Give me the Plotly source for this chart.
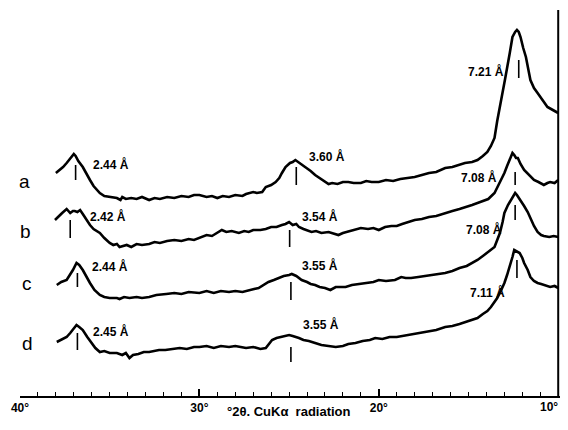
import plotly.graph_objects as go

# ---- data (2-theta in degrees, relative intensity with stacking offset) ----
a_2theta = [38.0, 37.8, 37.6, 37.4, 37.2, 37.0, 36.9, 36.75, 36.5, 36.3, 36.1, 35.9, 35.7, 35.55, 35.3, 35.0, 34.8, 34.6, 34.4, 34.3, 34.1, 33.8, 33.5, 33.2, 32.8, 32.5, 32.2, 31.8, 31.4, 31.0, 30.6, 30.3, 30.0, 29.6, 29.3, 29.0, 28.7, 28.35, 28.0, 27.6, 27.4, 27.25, 27.0, 26.8, 26.5, 26.3, 26.0, 25.75, 25.55, 25.4, 25.2, 24.95, 24.8, 24.65, 24.5, 24.3, 24.1, 23.8, 23.55, 23.3, 23.0, 22.8, 22.6, 22.3, 22.0, 21.7, 21.4, 21.0, 20.7, 20.4, 20.0, 19.6, 19.2, 18.8, 18.4, 18.0, 17.6, 17.2, 16.8, 16.3, 15.9, 15.5, 15.2, 14.8, 14.5, 14.2, 13.95, 13.75, 13.55, 13.4, 13.2, 12.95, 12.7, 12.55, 12.4, 12.3, 12.2, 12.1, 11.95, 11.8, 11.55, 11.35, 11.15, 10.9, 10.6, 10.3, 10.0]
a_int = [223, 226, 229, 233, 238, 242, 240, 235, 229, 222, 216, 210, 206, 203, 200, 199, 198, 198, 196, 199, 197, 198, 197, 199, 196, 198, 197, 199, 198, 200, 199, 201, 201, 199, 200, 198, 200, 199, 201, 200, 202, 203, 204, 203, 204, 209, 211, 214, 218, 223, 229, 233, 234, 236, 234, 232, 229, 225, 221, 218, 214, 212, 213, 212, 214, 214, 213, 213, 215, 214, 214, 216, 215, 217, 218, 219, 221, 223, 224, 228, 229, 231, 233, 234, 236, 240, 244, 250, 258, 275, 296, 318, 343, 359, 364, 366, 364, 359, 348, 339, 316, 308, 303, 296, 289, 286, 283]

b_2theta = [38.05, 37.85, 37.65, 37.4, 37.3, 37.2, 37.05, 36.95, 36.8, 36.65, 36.5, 36.3, 36.1, 35.9, 35.55, 35.3, 35.0, 34.8, 34.6, 34.45, 34.3, 34.05, 33.8, 33.5, 33.2, 32.8, 32.5, 32.2, 31.8, 31.4, 31.0, 30.6, 30.3, 30.0, 29.6, 29.3, 29.0, 28.75, 28.5, 28.2, 27.8, 27.5, 27.25, 27.0, 26.6, 26.3, 26.0, 25.7, 25.4, 25.2, 25.0, 24.8, 24.6, 24.45, 24.2, 24.0, 23.75, 23.5, 23.2, 22.8, 22.5, 22.25, 22.0, 21.6, 21.3, 21.0, 20.6, 20.3, 20.0, 19.65, 19.3, 19.0, 18.7, 18.4, 18.0, 17.6, 17.2, 16.8, 16.3, 15.9, 15.5, 15.1, 14.8, 14.5, 14.2, 13.9, 13.55, 13.3, 13.0, 12.85, 12.7, 12.55, 12.45, 12.35, 12.25, 12.1, 11.9, 11.7, 11.5, 11.35, 11.1, 10.8, 10.6, 10.45, 10.2, 10.0]
b_int = [176, 180, 183, 187, 185, 183, 185, 185, 184, 186, 182, 176, 171, 167, 163, 158, 153, 151, 152, 149, 150, 151, 149, 152, 151, 152, 154, 153, 155, 156, 155, 157, 156, 158, 161, 160, 163, 166, 164, 165, 163, 165, 164, 166, 166, 167, 169, 169, 171, 172, 174, 171, 172, 169, 167, 166, 164, 165, 163, 164, 162, 161, 163, 165, 166, 168, 167, 168, 166, 169, 170, 170, 172, 174, 176, 177, 179, 180, 183, 185, 187, 189, 191, 193, 195, 197, 203, 212, 223, 230, 236, 243, 241, 238, 238, 232, 226, 222, 219, 216, 214, 211, 213, 214, 213, 216]

c_2theta = [37.95, 37.7, 37.4, 37.2, 37.05, 36.85, 36.7, 36.5, 36.3, 36.1, 35.85, 35.55, 35.3, 35.0, 34.6, 34.45, 34.2, 33.9, 33.5, 33.2, 32.8, 32.4, 31.85, 31.4, 31.0, 30.6, 30.0, 29.6, 29.2, 28.8, 28.35, 28.0, 27.6, 27.25, 26.95, 26.7, 26.4, 26.15, 25.85, 25.6, 25.3, 25.0, 24.85, 24.6, 24.3, 24.0, 23.8, 23.55, 23.3, 23.0, 22.7, 22.4, 21.85, 21.5, 21.1, 20.6, 20.3, 20.0, 19.6, 19.1, 18.75, 18.5, 18.2, 17.8, 17.4, 17.0, 16.6, 16.3, 15.9, 15.5, 15.1, 14.8, 14.5, 14.2, 13.9, 13.55, 13.4, 13.25, 13.1, 13.0, 12.8, 12.65, 12.5, 12.4, 12.3, 12.1, 11.9, 11.7, 11.55, 11.35, 11.15, 10.95, 10.8, 10.5, 10.25, 10.0]
c_int = [111, 114, 116, 121, 126, 133, 131, 126, 119, 113, 106, 101, 99, 98, 98, 97, 99, 98, 99, 98, 99, 101, 102, 103, 102, 104, 103, 105, 103, 105, 104, 105, 104, 106, 107, 108, 111, 114, 116, 118, 120, 121, 122, 120, 116, 114, 112, 111, 109, 108, 106, 109, 109, 111, 112, 113, 114, 116, 115, 116, 119, 118, 118, 119, 120, 121, 122, 123, 125, 128, 130, 133, 136, 140, 144, 149, 156, 163, 174, 183, 191, 196, 201, 203, 201, 196, 190, 184, 178, 170, 164, 161, 160, 159, 160, 159]

d_2theta = [37.95, 37.7, 37.4, 37.2, 37.0, 36.85, 36.7, 36.5, 36.25, 36.0, 35.8, 35.55, 35.3, 35.0, 34.6, 34.3, 34.1, 33.9, 33.7, 33.4, 33.1, 32.8, 32.5, 32.25, 31.9, 31.5, 31.1, 30.7, 30.3, 30.0, 29.6, 29.2, 28.8, 28.35, 28.0, 27.7, 27.4, 27.0, 26.6, 26.3, 26.1, 25.95, 25.7, 25.4, 25.2, 25.0, 24.8, 24.6, 24.45, 24.2, 23.9, 23.55, 23.2, 22.8, 22.4, 22.0, 21.7, 21.3, 20.9, 20.5, 20.2, 19.8, 19.4, 19.0, 18.7, 18.4, 18.0, 17.6, 17.2, 16.8, 16.3, 15.9, 15.5, 15.2, 14.8, 14.5, 14.2, 13.95, 13.75, 13.55, 13.4, 13.2, 13.0, 12.85, 12.7, 12.55, 12.45, 12.35, 12.15, 12.0, 11.9, 11.7, 11.55, 11.35, 11.15, 10.95, 10.8, 10.6, 10.45, 10.2, 10.0]
d_int = [54, 56, 59, 63, 68, 71, 69, 66, 59, 53, 48, 44, 45, 43, 43, 41, 43, 38, 41, 42, 44, 44, 45, 46, 46, 47, 48, 47, 49, 49, 50, 48, 50, 49, 50, 49, 48, 49, 47, 48, 52, 56, 58, 59, 60, 61, 60, 59, 58, 56, 55, 53, 51, 50, 49, 50, 52, 53, 55, 56, 58, 57, 59, 59, 60, 61, 62, 64, 65, 66, 69, 70, 72, 74, 76, 78, 82, 85, 89, 94, 98, 105, 113, 121, 129, 139, 146, 145, 143, 138, 133, 126, 119, 115, 113, 112, 111, 110, 109, 110, 108]

# peak markers: position (2-theta), lower and upper end of the marker
peak_2theta = [36.9, 24.6, 12.2, 37.2, 24.97, 12.4, 36.8, 24.9, 12.4, 36.8, 24.9, 12.3]
peak_low = [216, 211, 318, 158, 149, 211, 109, 96, 176, 46, 34, 118]
peak_high = [231, 229, 336, 176, 166, 224, 123, 114, 191, 63, 49, 136]

# d-spacing labels
d_labels = ["2.44 Å", "3.60 Å", "7.21 Å", "2.42 Å", "3.54 Å", "7.08 Å",
            "2.44 Å", "3.55 Å", "7.08 Å", "2.45 Å", "3.55 Å", "7.11 Å"]
d_label_x = [34.95, 22.9, 14.0, 35.1, 23.3, 14.4, 35.0, 23.3, 14.15, 34.95, 23.25, 13.95]
d_label_y = [232, 240, 325, 180, 180, 219, 130, 131, 167, 65, 72, 104]

sample_names = ["a", "b", "c", "d"]
sample_x = [39.75, 39.7, 39.6, 39.6]
sample_y = [215, 165, 113, 53]

tick_vals = list(range(10, 41))
major_ticks = [40, 30, 20, 10]
major_text = ["40°", "30°", "20°", "10°"]

# right-hand frame line of the recorder chart (2-theta, intensity range)
frame_2theta = [10, 10]
frame_int = [0, 386]

FONT = "Liberation Sans"
Y_TOP = 388  # intensity units shown (1 unit = 1 px)

fig = go.Figure()
for xs, ys, nm in [(a_2theta, a_int, "a"), (b_2theta, b_int, "b"),
                   (c_2theta, c_int, "c"), (d_2theta, d_int, "d")]:
    fig.add_trace(go.Scatter(x=xs, y=ys, mode="lines", name=nm,
                             line=dict(color="black", width=2.6),
                             showlegend=False, hoverinfo="skip"))

mx, my = [], []
for p, lo, hi in zip(peak_2theta, peak_low, peak_high):
    mx += [p, p, None]
    my += [lo, hi, None]
fig.add_trace(go.Scatter(x=mx, y=my, mode="lines", line=dict(color="black", width=1.6),
                         showlegend=False, hoverinfo="skip"))
fig.add_trace(go.Scatter(x=frame_2theta, y=frame_int, mode="lines",
                         line=dict(color="black", width=2),
                         showlegend=False, hoverinfo="skip"))

annotations = []
for t, x, y in zip(d_labels, d_label_x, d_label_y):
    annotations.append(dict(x=x, y=y, text="<b>" + t + "</b>", showarrow=False,
                            xanchor="center", yanchor="middle",
                            font=dict(family=FONT, size=12, color="black")))
for t, x, y in zip(sample_names, sample_x, sample_y):
    annotations.append(dict(x=x, y=y, text=t, showarrow=False,
                            xanchor="center", yanchor="middle",
                            font=dict(family=FONT, size=19, color="black")))
# last major tick label, kept inside the page
annotations.append(dict(x=1.0, xref="paper", y=-0.006, yref="paper",
                        text="<b>" + major_text[-1] + "</b>", showarrow=False,
                        xanchor="right", yanchor="top",
                        font=dict(family=FONT, size=12, color="black")))
annotations.append(dict(x=25.0, xref="x", y=-0.04, yref="paper",
                        text="<b>°2θ. CuKα  radiation</b>", showarrow=False,
                        xanchor="center", yanchor="middle",
                        font=dict(family=FONT, size=13, color="black")))

fig.update_layout(
    width=552, height=414,
    margin=dict(l=12, r=0, t=0, b=26, autoexpand=False),
    paper_bgcolor="white", plot_bgcolor="white",
    annotations=annotations,
    xaxis=dict(range=[40, 9.9], showgrid=False, zeroline=False, automargin=False,
               showline=True, linecolor="black", linewidth=1.5,
               tickmode="array", tickvals=major_ticks,
               ticktext=["<b>" + s + "</b>" for s in major_text[:-1]] + [""],
               ticklabeloverflow="allow",
               ticks="inside", ticklen=7, tickwidth=1.5, tickcolor="black",
               tickfont=dict(family=FONT, size=12, color="black"),
               minor=dict(tickmode="array", tickvals=tick_vals, ticks="inside",
                          ticklen=4, tickwidth=1.2, tickcolor="black", showgrid=False)),
    yaxis=dict(range=[0, Y_TOP], visible=False, showgrid=False, zeroline=False, automargin=False),
)

fig.write_html("out.html")
